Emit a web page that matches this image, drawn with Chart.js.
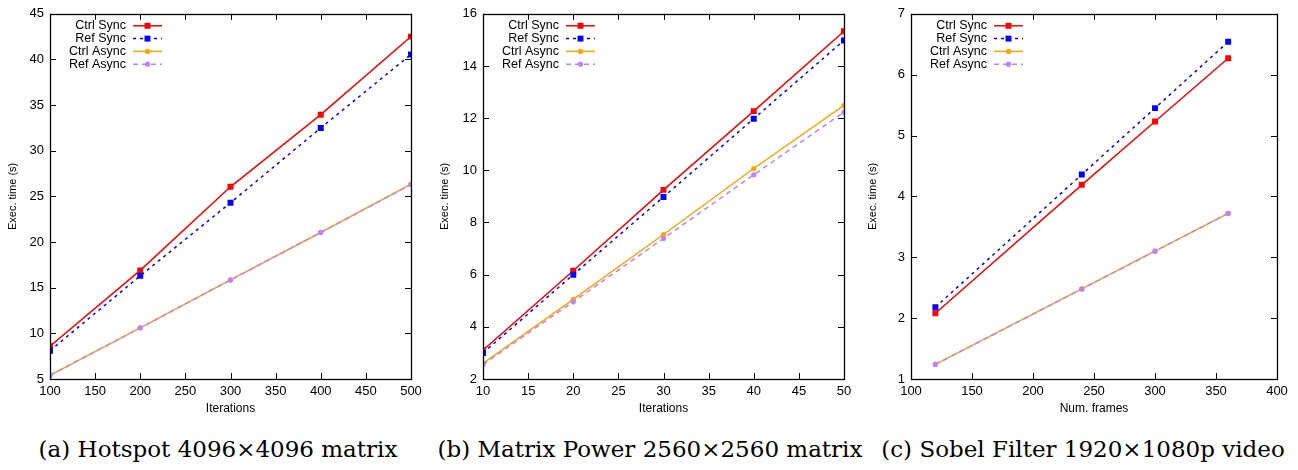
<!DOCTYPE html>
<html>
<head>
<meta charset="utf-8">
<script src="https://cdn.jsdelivr.net/npm/chart.js@4.4.1/dist/chart.umd.min.js"></script>
<style>
  html, body { margin: 0; padding: 0; background: #fff; }
  body { width: 1298px; height: 470px; position: relative; overflow: hidden; }
  .panel { position: absolute; top: 0; }
  .cap { position: absolute; top: 436px; text-align: center; white-space: nowrap;
         font-family: 'DejaVu Serif', serif; font-size: 23px; color: #000; }
</style>
</head>
<body>
<div class="panel" style="left:0px"><canvas id="cA" width="430" height="420"></canvas></div>
<div class="panel" style="left:430px"><canvas id="cB" width="440" height="420"></canvas></div>
<div class="panel" style="left:860px"><canvas id="cC" width="438" height="420"></canvas></div>
<div class="cap" style="left:3px;width:430px">(a) Hotspot 4096×4096 matrix</div>
<div class="cap" style="left:430px;width:440px">(b) Matrix Power 2560×2560 matrix</div>
<div class="cap" style="left:864px;width:438px">(c) Sobel Filter 1920×1080p video</div>
<script>
// series names, shared by the three panels
const seriesNames = ['Ctrl Sync', 'Ref Sync', 'Ctrl Async', 'Ref Async'];

// (a) Hotspot
const hotspotIters = [100, 200, 300, 400, 500];
const hotspotCtrlSync = [8.6, 16.9, 26.05, 33.95, 42.5];
const hotspotRefSync = [8.1, 16.3, 24.3, 32.5, 40.55];
const hotspotCtrlAsync = [5.4, 10.6, 15.85, 21.05, 26.35];
const hotspotRefAsync = [5.4, 10.6, 15.85, 21.05, 26.3];

// (b) Matrix power
const matpowIters = [10, 20, 30, 40, 50];
const matpowCtrlSync = [3.1, 6.15, 9.25, 12.27, 15.33];
const matpowRefSync = [3.0, 6.0, 8.98, 11.98, 14.98];
const matpowCtrlAsync = [2.6, 5.05, 7.54, 10.07, 12.49];
const matpowRefAsync = [2.56, 4.96, 7.39, 9.83, 12.23];

// (c) Sobel filter
const sobelFrames = [120, 240, 300, 360];
const sobelCtrlSync = [2.08, 4.19, 5.23, 6.27];
const sobelRefSync = [2.18, 4.36, 5.45, 6.54];
const sobelCtrlAsync = [1.24, 2.48, 3.1, 3.72];
const sobelRefAsync = [1.24, 2.48, 3.1, 3.72];

const styles = [
  { color: '#ff0000', dash: [], point: 'rect', r: 4.2 },
  { color: '#0000ff', dash: [3, 4], point: 'rect', r: 4.2 },
  { color: '#ffa500', dash: [], point: 'circle', r: 2.6 },
  { color: '#c080ff', dash: [5, 4], point: 'circle', r: 2.6 },
];

const AXIS_FONT = 'Liberation Sans';

// gnuplot-like box with inward ticks mirrored on all four sides
const framePlugin = {
  id: 'frame',
  afterDatasetsDraw(chart) {
    const { ctx, chartArea: a, scales } = chart;
    ctx.save();
    ctx.strokeStyle = '#000';
    ctx.lineWidth = 1;
    const t = 6;
    ctx.beginPath();
    for (const tk of scales.x.ticks) {
      const x = Math.round(scales.x.getPixelForValue(tk.value)) + 0.5;
      ctx.moveTo(x, a.bottom); ctx.lineTo(x, a.bottom - t);
      ctx.moveTo(x, a.top); ctx.lineTo(x, a.top + t);
    }
    for (const tk of scales.y.ticks) {
      const y = Math.round(scales.y.getPixelForValue(tk.value)) + 0.5;
      ctx.moveTo(a.left, y); ctx.lineTo(a.left + t, y);
      ctx.moveTo(a.right, y); ctx.lineTo(a.right - t, y);
    }
    ctx.stroke();
    ctx.lineWidth = 1.3;
    ctx.strokeRect(Math.round(a.left) + 0.5, Math.round(a.top) + 0.5,
      Math.round(a.right - a.left), Math.round(a.bottom - a.top));
    ctx.restore();
  },
};

// key in the top-left corner: right-aligned label, then line sample with marker
const keyPlugin = {
  id: 'gkey',
  afterDraw(chart) {
    const { ctx, chartArea: a } = chart;
    ctx.save();
    ctx.font = `12.5px "${AXIS_FONT}"`;
    ctx.textAlign = 'right';
    ctx.textBaseline = 'middle';
    chart.data.datasets.forEach((ds, i) => {
      const y = a.top + 12 + i * 12.8;
      ctx.fillStyle = '#000';
      ctx.fillText(ds.label, a.left + 76, y);
      const x0 = a.left + 83, x1 = a.left + 112;
      ctx.strokeStyle = ds.borderColor;
      ctx.lineWidth = ds.borderWidth;
      ctx.setLineDash(ds.borderDash);
      ctx.beginPath(); ctx.moveTo(x0, y); ctx.lineTo(x1, y); ctx.stroke();
      ctx.setLineDash([]);
      ctx.fillStyle = ds.borderColor;
      ctx.beginPath();
      if (ds.pointStyle === 'rect') {
        const s = ds.pointRadius * Math.SQRT1_2;
        ctx.rect((x0 + x1) / 2 - s, y - s, 2 * s, 2 * s);
      } else {
        ctx.arc((x0 + x1) / 2, y, ds.pointRadius, 0, Math.PI * 2);
      }
      ctx.fill();
    });
    ctx.restore();
  },
};

function makePanel(id, xs, series, opt) {
  const datasets = series.map((vals, i) => ({
    label: seriesNames[i],
    data: xs.map((x, k) => ({ x, y: vals[k] })),
    borderColor: styles[i].color,
    backgroundColor: styles[i].color,
    borderDash: styles[i].dash,
    borderWidth: 1.5,
    pointStyle: styles[i].point,
    pointRadius: styles[i].r,
    pointBorderWidth: 0,
    tension: 0,
    order: 3 - i,
  }));
  const tickFont = { family: AXIS_FONT, size: 13 };
  new Chart(document.getElementById(id), {
    type: 'line',
    data: { datasets },
    options: {
      responsive: false,
      animation: false,
      parsing: false,
      layout: { padding: { top: 9, right: opt.padRight, left: 0, bottom: 0 } },
      plugins: { legend: { display: false }, tooltip: { enabled: false } },
      scales: {
        x: {
          type: 'linear',
          min: opt.xMin, max: opt.xMax,
          ticks: { stepSize: opt.xStep, color: '#000', font: tickFont, padding: 5, maxRotation: 0 },
          grid: { display: false, drawTicks: false },
          border: { display: false },
          title: { display: true, text: opt.xTitle, color: '#000', font: { family: AXIS_FONT, size: 12 }, padding: 4 },
          afterFit: (s) => { s.height = 41; },
        },
        y: {
          min: opt.yMin, max: opt.yMax,
          ticks: { stepSize: opt.yStep, color: '#000', font: tickFont, padding: 6 },
          grid: { display: false, drawTicks: false },
          border: { display: false },
          title: { display: true, text: 'Exec. time (s)', color: '#000', font: { family: AXIS_FONT, size: 11 }, padding: opt.yTitlePad },
          afterFit: (s) => { s.width = opt.yWidth; },
        },
      },
    },
    plugins: [framePlugin, keyPlugin],
  });
}

makePanel('cA', hotspotIters,
  [hotspotCtrlSync, hotspotRefSync, hotspotCtrlAsync, hotspotRefAsync],
  { xMin: 100, xMax: 500, xStep: 50, yMin: 5, yMax: 45, yStep: 5,
    xTitle: 'Iterations', yWidth: 50, padRight: 19, yTitlePad: 6.4 });

makePanel('cB', matpowIters,
  [matpowCtrlSync, matpowRefSync, matpowCtrlAsync, matpowRefAsync],
  { xMin: 10, xMax: 50, xStep: 5, yMin: 2, yMax: 16, yStep: 2,
    xTitle: 'Iterations', yWidth: 53, padRight: 26, yTitlePad: 8.4 });

makePanel('cC', sobelFrames,
  [sobelCtrlSync, sobelRefSync, sobelCtrlAsync, sobelRefAsync],
  { xMin: 100, xMax: 400, xStep: 50, yMin: 1, yMax: 7, yStep: 1,
    xTitle: 'Num. frames', yWidth: 51, padRight: 21, yTitlePad: 6.4 });
</script>
</body>
</html>
